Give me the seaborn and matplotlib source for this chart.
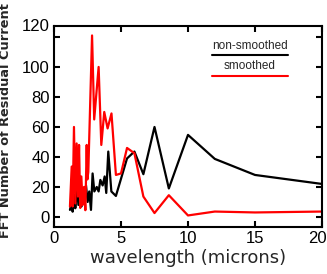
import matplotlib
matplotlib.use("Agg")
import matplotlib.pyplot as plt
import matplotlib.transforms as mtransforms
import seaborn as sns
import pandas as pd

# wavelength (microns) and FFT number
x_nonsmooth = [1.19, 1.32, 1.39, 1.52, 1.59, 1.72, 1.82, 1.94, 2.04, 2.14, 2.26, 2.39,
               2.51, 2.63, 2.76, 2.88, 3.01, 3.19, 3.33, 3.46, 3.63, 3.78, 3.90, 4.05,
               4.28, 4.62, 5.45, 6.0, 6.67, 7.5, 8.57, 10.0, 12.0, 15.0, 20.0]
y_nonsmooth = [4.7, 10, 3.5, 14.7, 5.8, 20, 8, 24.7, 6.9, 18, 9, 21,
               10, 17, 4.7, 29, 17, 20, 17, 24.7, 21, 27, 16, 43.6,
               17, 14, 39, 43.6, 28.5, 60, 19, 54.7, 38.7, 28, 22]

x_smooth = [1.19, 1.32, 1.39, 1.49, 1.59, 1.69, 1.79, 1.87, 1.96, 2.04, 2.14, 2.24,
            2.34, 2.44, 2.49, 2.56, 2.84, 3.0, 3.33, 3.53, 3.75, 4.0, 4.29, 4.62,
            5.0, 5.45, 6.0, 6.67, 7.5, 8.57, 10.0, 12.0, 15.0, 20.0]
y_smooth = [6.9, 33.6, 7, 60, 9, 49, 13.6, 48, 6, 27, 8, 20,
            4.5, 48, 25, 30, 121, 65, 100, 48, 70, 59, 69, 28,
            29, 46, 42.5, 13.6, 2.6, 14.5, 1, 3.6, 3, 3.6]

x_ticks = [0, 5, 10, 15, 20]
y_ticks = [0, 20, 40, 60, 80, 100, 120]
legend_labels = ["non-smoothed", "smoothed"]
colors = ["black", "#ff0000"]

sns.set_style("ticks")
plt.rcParams["font.family"] = ["Liberation Sans", "DejaVu Sans"]

fig = plt.figure(figsize=(3.27, 2.74), dpi=100)
ax = fig.add_axes([54/327, 1-227/274, 268/327, 201/274])

df_a = pd.DataFrame({"x": x_nonsmooth, "y": y_nonsmooth})
df_b = pd.DataFrame({"x": x_smooth, "y": y_smooth})
sns.lineplot(data=df_a, x="x", y="y", ax=ax, color=colors[0], lw=1.6, sort=False, estimator=None)
sns.lineplot(data=df_b, x="x", y="y", ax=ax, color=colors[1], lw=1.6, sort=False, estimator=None)

ax.set_xlim(0, 20)
ax.set_ylim(-6.7, 127.3)
ax.set_xticks(x_ticks)
ax.set_yticks(y_ticks)
ax.set_xticklabels([str(t) for t in x_ticks], fontsize=12)
ax.set_yticklabels([str(t) for t in y_ticks], fontsize=12)
ax.tick_params(direction="in", length=4, width=1.5, top=True, right=True, pad=3, colors="black")
for s in ax.spines.values():
    s.set_linewidth(1.5)
    s.set_color("black")

# shift top y label upward like reference
lbl = ax.get_yticklabels()[-1]
lbl.set_transform(lbl.get_transform() + mtransforms.ScaledTranslation(0, 12/100, fig.dpi_scale_trans))
# shift last x label left so it stays inside
xl = ax.get_xticklabels()[-1]
xl.set_transform(xl.get_transform() + mtransforms.ScaledTranslation(-5/100, 0, fig.dpi_scale_trans))

ax.set_xlabel("wavelength (microns)", fontsize=13, labelpad=2, family="DejaVu Sans")
ax.set_ylabel("")
fig.text(6/327, 1-121/274, "FFT Number of Residual Current", rotation=90, fontsize=9.3,
         fontweight="bold", ha="center", va="center", family="DejaVu Sans")

# legend drawn IDL-style: label above line
for lab, col, ty, ly in zip(legend_labels, colors, [0.902, 0.801], [0.856, 0.753]):
    ax.text(0.73, ty, lab, transform=ax.transAxes, ha="center", va="center", fontsize=8.5)
    ax.plot([0.59, 0.873], [ly, ly], transform=ax.transAxes, color=col, lw=1.5)

fig.savefig("out.png", dpi=100)
